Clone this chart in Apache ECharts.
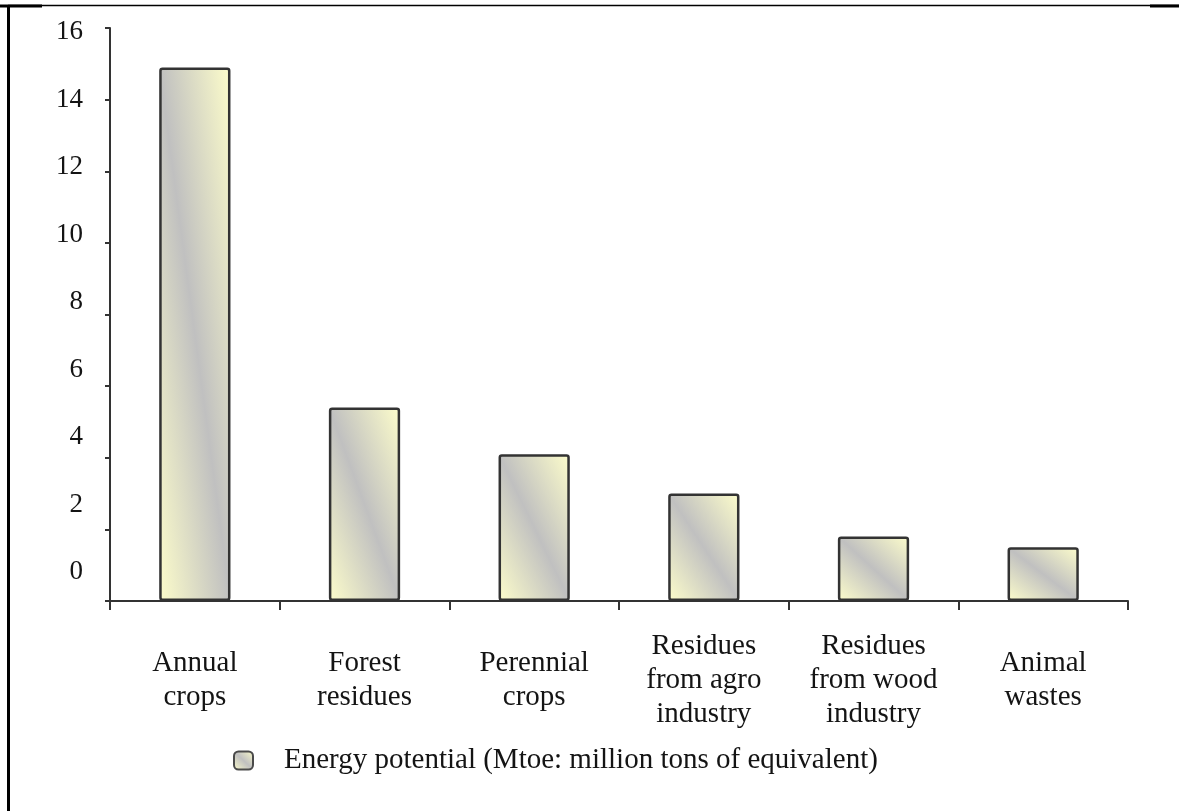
<!DOCTYPE html>
<html>
<head>
<meta charset="utf-8">
<title>Energy potential by biomass source</title>
<script src="https://cdn.jsdelivr.net/npm/echarts@6/dist/echarts.min.js"></script>
<style>
  html, body { margin: 0; padding: 0; background: #ffffff; }
  #chart { width: 1179px; height: 811px; }
</style>
</head>
<body>
<div id="chart"></div>
<script>
// Biomass sources (category axis) and their energy potential in Mtoe
const categories = [
  'Annual\ncrops',
  'Forest\nresidues',
  'Perennial\ncrops',
  'Residues\nfrom agro\nindustry',
  'Residues\nfrom wood\nindustry',
  'Animal\nwastes'
];
const energyPotential = [14.9, 5.4, 4.1, 3.0, 1.8, 1.5];
const seriesName = 'Energy potential (Mtoe: million tons of equivalent)';
const yTicks = { min: 0, max: 16, step: 2 };

const FONT = '"Liberation Serif", "DejaVu Serif", serif';
const TEXT = '#141414';
const YELLOW = '#fdfdcb';
const GREY = '#c0c0c0';
const EDGE = '#333333';

// Diagonal fill: pale yellow at the lower-left and upper-right corners,
// grey along the other diagonal, stretched to the box of each bar.
function diagonalFill(w, h) {
  const s = h * h + w * w;
  return new echarts.graphic.LinearGradient(0, 1, 2 * h * h / s, 1 - 2 * w * w / s, [
    { offset: 0, color: YELLOW },
    { offset: 0.5, color: GREY },
    { offset: 1, color: YELLOW }
  ]);
}

const chart = echarts.init(document.getElementById('chart'), null, { renderer: 'canvas' });

const option = {
  backgroundColor: '#ffffff',
  animation: false,
  textStyle: { fontFamily: FONT, color: TEXT },
  grid: [
    { left: 110, right: 51, top: 28, bottom: 210, containLabel: false },
    { left: 110, right: 51, top: 32, height: 540, containLabel: false }
  ],
  legend: {
    left: 233,
    top: 746,
    padding: 0,
    data: [seriesName],
    icon: 'roundRect',
    itemWidth: 19,
    itemHeight: 18,
    itemStyle: { color: diagonalFill(19, 18), borderColor: '#4a4a4a', borderWidth: 2 },
    textStyle: {
      fontFamily: FONT,
      fontSize: 29,
      color: TEXT,
      padding: [0, 0, 0, 26]
    },
    selectedMode: false
  },
  xAxis: [
    {
      type: 'category',
      gridIndex: 0,
      data: categories,
      boundaryGap: true,
      axisLine: { show: true, lineStyle: { color: EDGE, width: 2 } },
      axisTick: { show: true, length: 9, lineStyle: { color: EDGE, width: 2 } },
      axisLabel: {
        interval: 0,
        margin: 79,
        verticalAlign: 'middle',
        fontFamily: FONT,
        fontSize: 29,
        lineHeight: 34,
        color: TEXT,
        align: 'center'
      },
      splitLine: { show: false }
    },
    {
      type: 'value',
      gridIndex: 1,
      show: false
    }
  ],
  yAxis: [
    {
      type: 'value',
      gridIndex: 0,
      min: yTicks.min,
      max: yTicks.max,
      interval: yTicks.step,
      axisLine: { show: true, lineStyle: { color: EDGE, width: 2 } },
      axisTick: { show: true, length: 5, lineStyle: { color: EDGE, width: 2 } },
      axisLabel: { show: false },
      splitLine: { show: false }
    },
    {
      // value labels of the vertical scale
      type: 'value',
      gridIndex: 1,
      min: yTicks.min,
      max: yTicks.max,
      interval: yTicks.step,
      axisLine: { show: false },
      axisTick: { show: false },
      splitLine: { show: false },
      axisLabel: {
        margin: 27,
        fontFamily: FONT,
        fontSize: 27,
        color: TEXT
      }
    }
  ],
  series: [
    {
      name: seriesName,
      type: 'bar',
      xAxisIndex: 0,
      yAxisIndex: 0,
      barWidth: '42%',
      data: energyPotential,
      itemStyle: {
        color: diagonalFill(1, 1),
        borderColor: EDGE,
        borderWidth: 2.5,
        borderRadius: 2
      }
    }
  ],
  graphic: [
    // frame: top rule and left rule
    { type: 'line', shape: { x1: 8, y1: 5.5, x2: 1179, y2: 5.5 }, style: { stroke: '#000', lineWidth: 1.5 }, silent: true },
    { type: 'rect', shape: { x: 0, y: 4.5, width: 42, height: 3 }, style: { fill: '#000' }, silent: true },
    { type: 'rect', shape: { x: 1150, y: 4.5, width: 29, height: 3 }, style: { fill: '#000' }, silent: true },
    { type: 'line', shape: { x1: 8.5, y1: 5, x2: 8.5, y2: 811 }, style: { stroke: '#000', lineWidth: 3 }, silent: true }
  ]
};

chart.setOption(option);

// Give each bar a fill matched to its own width and height
const data = chart.getModel().getSeriesByIndex(0).getData();
const styled = energyPotential.map(function (v, i) {
  const layout = data.getItemLayout(i);
  const w = Math.abs(layout.width);
  const h = Math.abs(layout.height);
  return { value: v, itemStyle: { color: diagonalFill(w, h) } };
});
chart.setOption({ series: [{ data: styled }] });
</script>
</body>
</html>
